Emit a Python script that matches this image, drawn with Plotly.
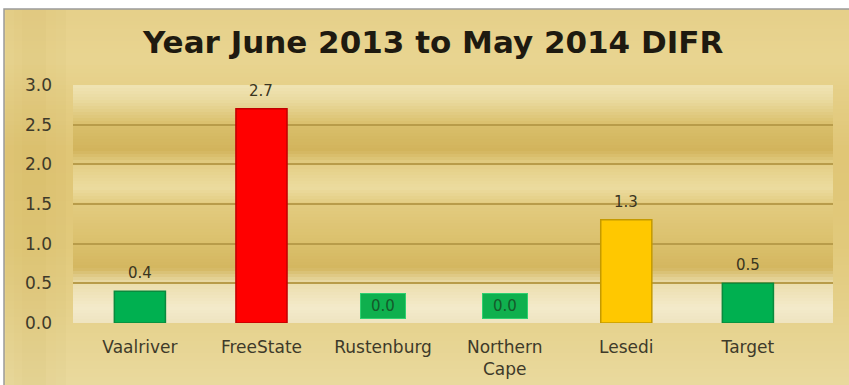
import plotly.graph_objects as go
import numpy as np

# ---- data ----
categories = ["Vaalriver", "FreeState", "Rustenburg", "Northern<br>Cape", "Lesedi", "Target"]
difr_values = [0.4, 2.7, 0.0, 0.0, 1.3, 0.5]
bar_colors = ["#00B050", "#FF0000", "#00B050", "#00B050", "#FFC800", "#00B050"]
bar_edges = ["#0A8A3E", "#C00000", "#0A8A3E", "#0A8A3E", "#C49A00", "#0A8A3E"]
y_ticks = [0.0, 0.5, 1.0, 1.5, 2.0, 2.5, 3.0]
title_text = "Year June 2013 to May 2014 DIFR"

W, H = 849, 385
L, R, T, B = 73, 16, 85, 62   # plot area 73..833 x 85..323
pw, ph = W - L - R, H - T - B


def px(xp):
    return (xp - L) / pw


def py(yp):
    return (H - B - yp) / ph


def hex2rgb(h):
    h = h.lstrip("#")
    return np.array([int(h[i:i + 2], 16) for i in (0, 2, 4)], float)


def interp(stops, y):
    ys = [s[0] for s in stops]
    for i in range(len(stops) - 1):
        if ys[i] <= y <= ys[i + 1]:
            t = (y - ys[i]) / (ys[i + 1] - ys[i]) if ys[i + 1] > ys[i] else 0
            c = hex2rgb(stops[i][1]) * (1 - t) + hex2rgb(stops[i + 1][1]) * t
            return "rgb(%d,%d,%d)" % tuple(c)
    return stops[-1][1]


shapes = []
# outer chart area (white surround then gold)
outer_stops = [(9, "#E6D08A"), (60, "#E9D591"), (150, "#E0C676"), (250, "#E2CA7C"), (385, "#EADA9E")]
step = 4
for yy in range(9, 385, step):
    shapes.append(dict(type="rect", xref="paper", yref="paper", layer="below",
                       x0=px(4), x1=px(849), y0=py(yy), y1=py(min(yy + step, 385)),
                       fillcolor=interp(outer_stops, yy + step / 2), line=dict(width=0)))
# soft darker vertical band near left
for xa, xb, op in [(6, 14, 0.03), (14, 22, 0.06), (22, 46, 0.08), (46, 56, 0.05), (56, 66, 0.03)]:
    shapes.append(dict(type="rect", xref="paper", yref="paper", layer="below",
                       x0=px(xa), x1=px(xb), y0=py(385), y1=py(10),
                       fillcolor="rgba(170,130,30,%.2f)" % op, line=dict(width=0)))
# outer frame line
shapes.append(dict(type="rect", xref="paper", yref="paper", layer="below",
                   x0=px(4), x1=px(851), y0=py(387), y1=py(9),
                   fillcolor="rgba(0,0,0,0)", line=dict(color="#9A9A9A", width=1.5)))

# plot area gradient
plot_stops = [(85, "#F0E4B5"), (100, "#EADBA0"), (124, "#DAC06C"), (150, "#D2B45C"),
              (164, "#E4CF86"), (188, "#ECDC9F"), (204, "#E3CC80"), (244, "#DBC06C"),
              (268, "#D4B760"), (284, "#ECDFAF"), (308, "#F4EBCB"), (323, "#EFE4C0")]
step = 3
for yy in range(85, 323, step):
    shapes.append(dict(type="rect", xref="paper", yref="paper", layer="below",
                       x0=0, x1=1, y0=py(yy), y1=py(min(yy + step, 323)),
                       fillcolor=interp(plot_stops, yy + step / 2), line=dict(width=0)))

fig = go.Figure()
fig.add_trace(go.Bar(
    x=categories, y=difr_values,
    marker=dict(color=bar_colors,
                line=dict(color=bar_edges, width=[0 if v == 0 else 1.5 for v in difr_values])),
    width=0.42, hoverinfo="skip"))

annotations = []
for cat, v in zip(categories, difr_values):
    if v == 0:
        annotations.append(dict(x=cat, y=v, xref="x", yref="y", text="%.1f" % v,
                                showarrow=False, yanchor="bottom", yshift=4,
                                width=42, height=22, bgcolor="#0FB04E",
                                bordercolor="#30D070", borderwidth=1,
                                font=dict(family="DejaVu Sans", size=15, color="#155A2A")))
    else:
        annotations.append(dict(x=cat, y=v, xref="x", yref="y", text="%.1f" % v,
                                showarrow=False, yanchor="bottom", yshift=7,
                                font=dict(family="DejaVu Sans", size=15, color="#3A3520")))

annotations.append(dict(xref="paper", yref="paper", x=px(432), y=py(42),
                        text="<b>%s</b>" % title_text, showarrow=False,
                        xanchor="center", yanchor="middle",
                        font=dict(family="DejaVu Sans", size=31, color="#1E1A10")))

fig.update_layout(
    width=W, height=H,
    margin=dict(l=L, r=R, t=T, b=B, pad=0, autoexpand=False),
    paper_bgcolor="white", plot_bgcolor="rgba(0,0,0,0)",
    shapes=shapes, annotations=annotations,
    showlegend=False,
    xaxis=dict(range=[-0.55, 5.70], showgrid=False, zeroline=False, showline=False,
               ticks="", tickfont=dict(family="DejaVu Sans", size=17, color="#3E3A2A"),
               ticklabelstandoff=12, fixedrange=True, automargin=False),
    yaxis=dict(range=[0, 3.0], tickvals=y_ticks, ticktext=["%.1f" % t for t in y_ticks],
               showgrid=True, gridcolor="#B89C4A", gridwidth=1.5, zeroline=False,
               showline=False, ticks="",
               tickfont=dict(family="DejaVu Sans", size=17, color="#3E3A2A"),
               ticklabelstandoff=20, fixedrange=True, automargin=False),
)

fig.write_html("out.html")
